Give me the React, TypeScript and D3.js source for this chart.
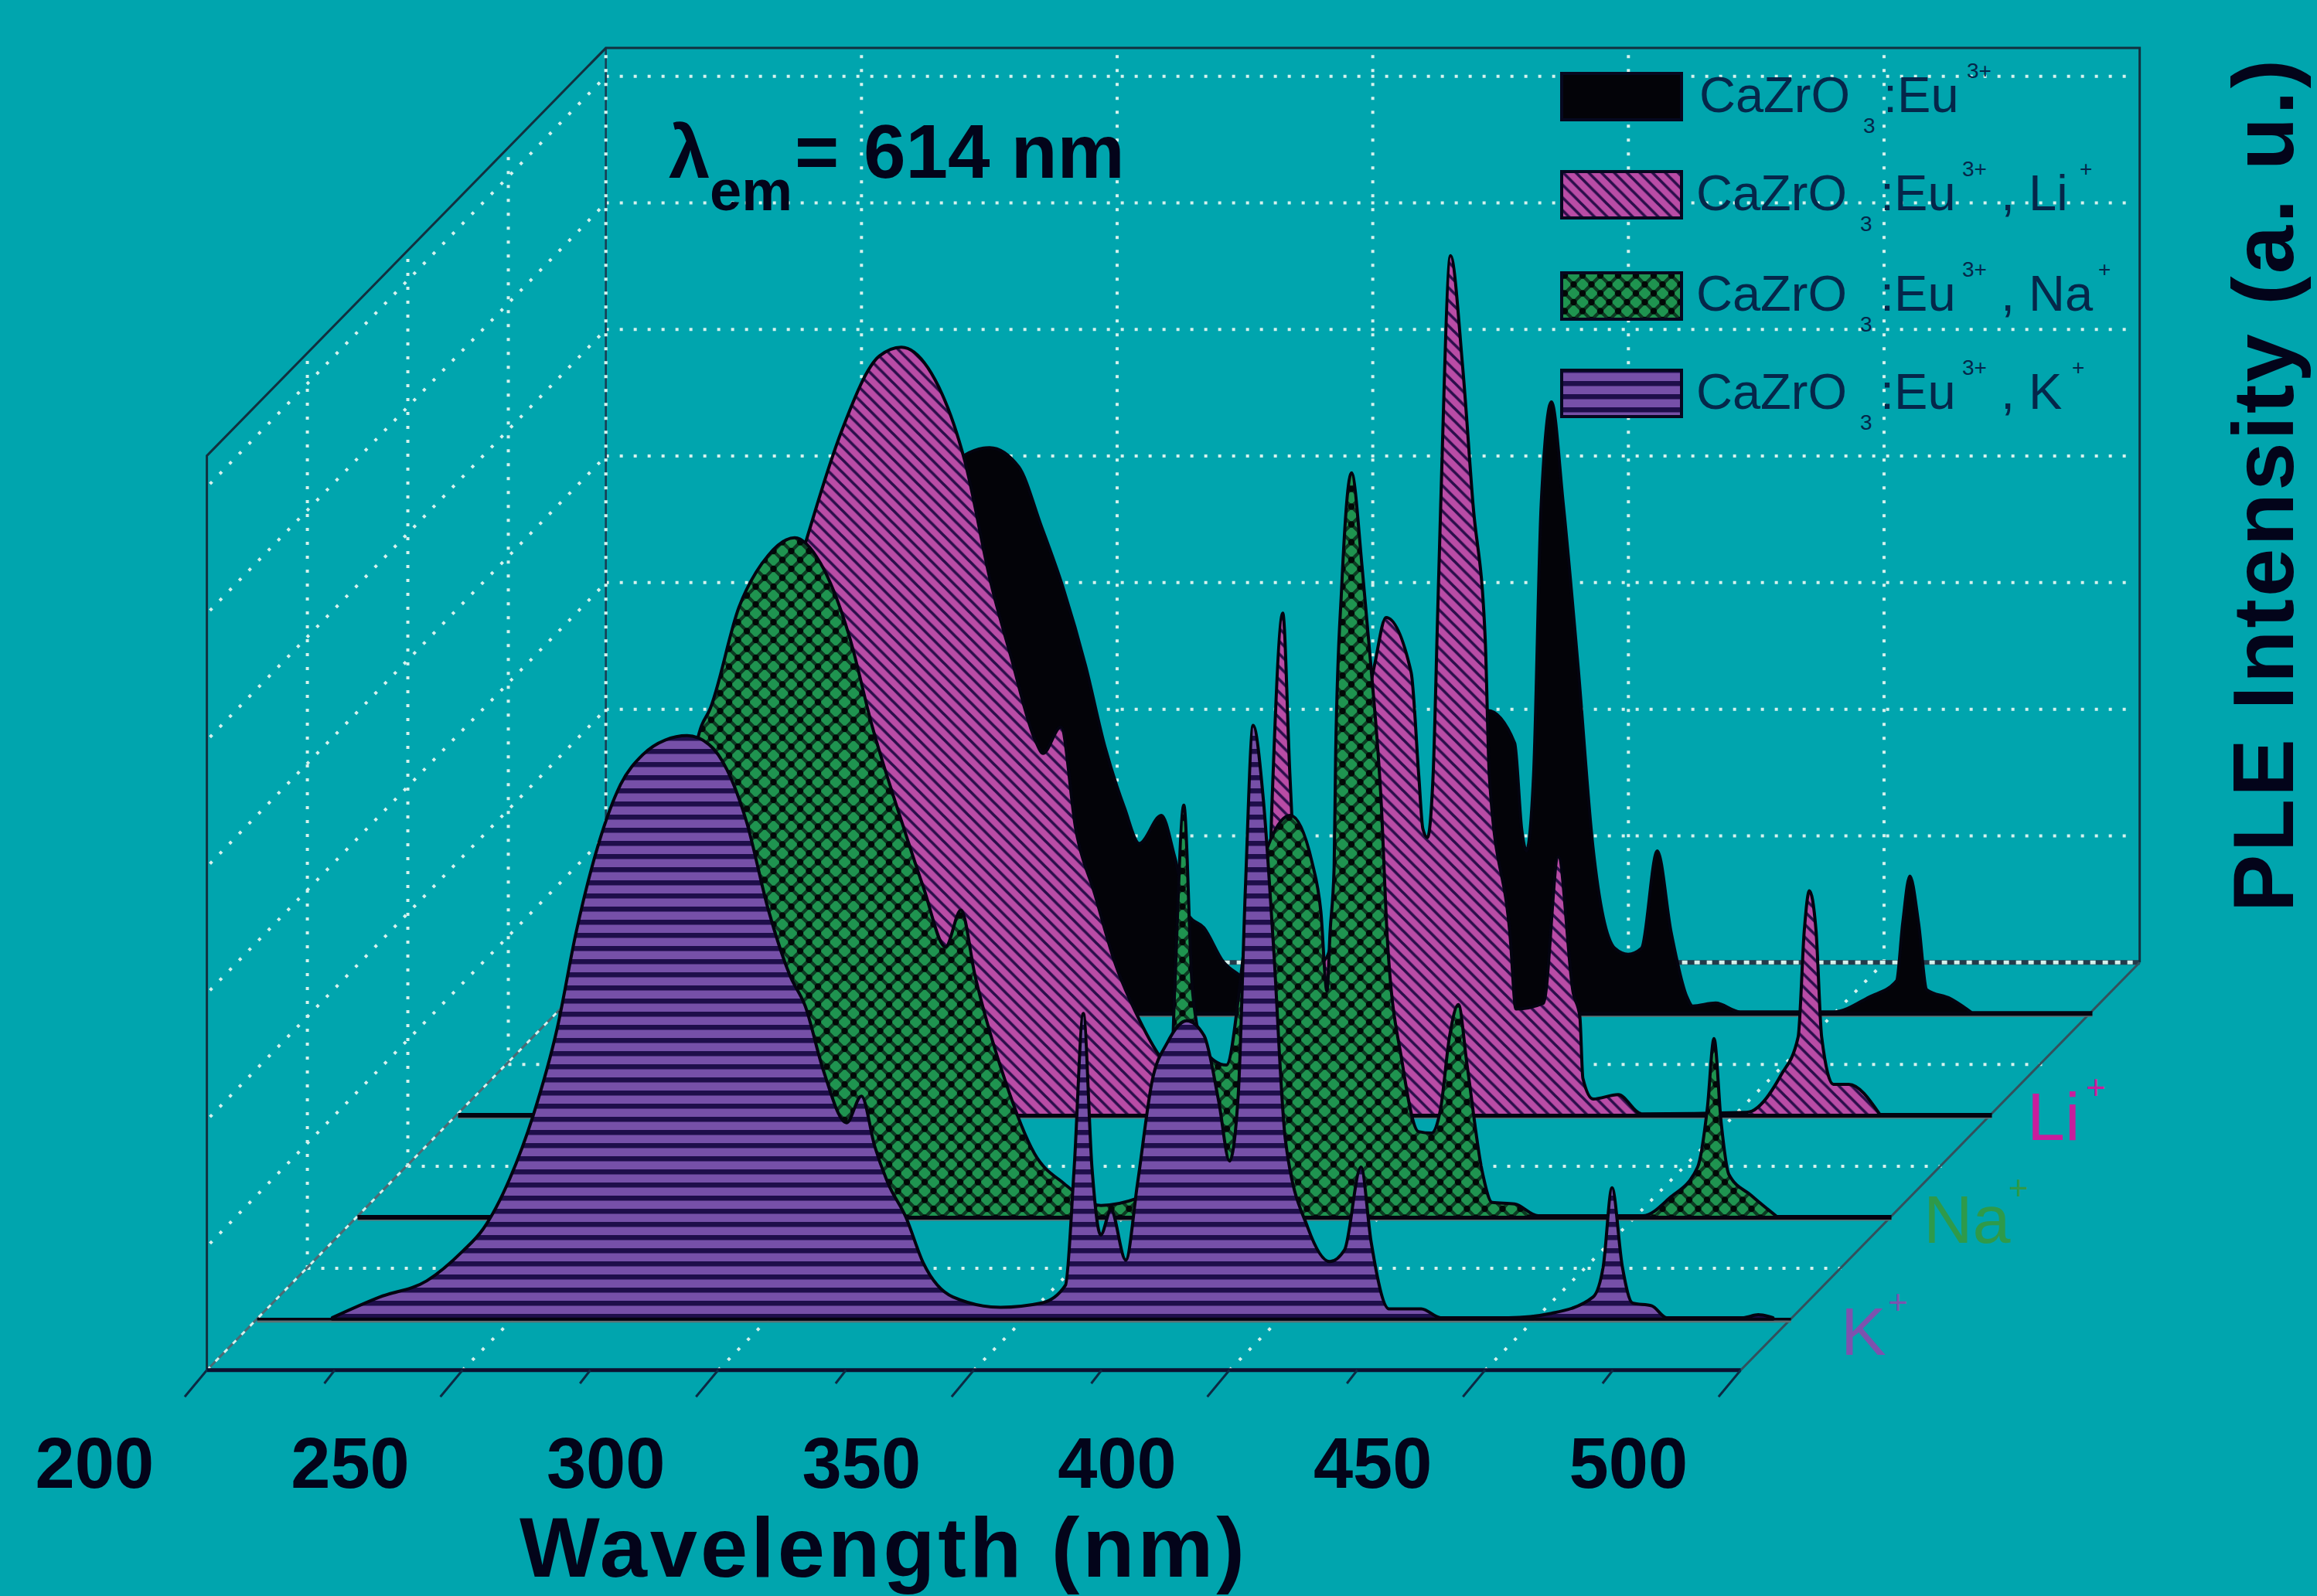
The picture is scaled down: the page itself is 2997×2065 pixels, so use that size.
import React from "react";
import * as d3 from "d3";

const W = 2997, H = 2065, s = 2997 / 1568;

// Wavelength (nm) and intensity (a.u.)
const blackWl = [215, 225, 240, 255, 265, 275, 279.5, 284.3, 290, 294.4, 298.5, 303.1, 306.9, 310.7, 313.6, 317.9, 320.5, 323.3, 326.2, 330, 333.5, 339, 345, 358, 361, 364, 375, 381.7, 387, 388.4, 389.3, 390.7, 392.2, 394.2, 396.5, 399.4, 402.3, 406.6, 409.2, 411.8, 414.9, 417.6, 420.7, 421.8, 426.3, 431.1, 449.4, 456.3, 461.7, 462.9, 464.3, 466, 467.6, 472.2, 476.2];
const blackI = [0, 5, 40, 130, 280, 360, 378, 383, 370, 330, 290, 235, 180, 139, 115, 134, 106, 66, 58, 35, 25, 10, 10, 15, 200, 30, 150, 205, 183, 124, 110, 161, 345, 414, 345, 235, 113, 44, 40, 44, 110, 55, 11, 5, 7, 1, 1, 11, 22, 61, 93, 61, 16, 10, 1];

const liWl = [215, 230, 240, 250, 260, 265, 269.4, 275.1, 282.4, 286.7, 291.9, 299.1, 304.3, 308.1, 313, 314.4, 317.9, 320.8, 324.6, 328.3, 333.2, 338.1, 343, 347.4, 351.7, 357.5, 359.2, 361.3, 362.7, 364.7, 369, 379.2, 381.5, 386.4, 387.9, 388.7, 389.6, 390.7, 391.6, 392.2, 394.1, 396.5, 398.5, 400.9, 401.7, 405.8, 406.9, 412.3, 415.2, 418.1, 419.4, 420, 422, 426.9, 431.5, 452, 458.7, 462.1, 463.3, 464.3, 465.6, 466.7, 469, 472, 478];
const liI = [0, 20, 50, 115, 260, 350, 404, 464, 514, 520, 506, 443, 359, 311, 253, 245, 263, 194, 149, 105, 65, 36, 24, 9, 4, 9, 212, 340, 230, 114, 104, 304, 337, 300, 230, 194, 188, 230, 340, 414, 582, 506, 414, 322, 230, 120, 72, 76, 175, 83, 67, 25, 11, 14, 1, 2, 27, 53, 125, 152, 125, 53, 21, 21, 1];

const naWl = [214, 233, 240, 250, 260, 267.3, 268.8, 274.6, 280.3, 285.5, 290.5, 296.2, 300.6, 306.4, 310.7, 315, 318, 320.8, 326.6, 332.4, 338.1, 345.4, 352.6, 358.4, 359.8, 361.6, 363.3, 365.6, 369.9, 374.3, 378.5, 382.4, 386.7, 388.4, 389.6, 390.2, 391, 391.3, 392.5, 394.4, 396.5, 398.2, 400.2, 401.4, 404.3, 407.5, 410.1, 411.8, 413.6, 415.3, 417, 419.9, 421.9, 426.3, 430.9, 451.4, 456.6, 462.1, 464, 465.3, 466.7, 468.2, 472.5, 477.4];
const naI = [0, 0, 27, 100, 190, 333, 343, 413, 448, 460, 443, 393, 333, 268, 223, 183, 208, 163, 93, 43, 23, 8, 13, 23, 153, 279, 153, 113, 103, 203, 255, 272, 240, 207, 153, 193, 237, 314, 428, 504, 439, 373, 281, 189, 105, 58, 57, 73, 123, 144, 103, 32, 10, 9, 1, 1, 13, 34, 74, 121, 64, 29, 15, 1];

const kWl = [214.7, 224, 233.2, 240.2, 244.2, 249.4, 254, 258.7, 262.4, 266.8, 271.1, 275.4, 279.8, 284.1, 288.4, 291.9, 295.7, 300, 304.3, 307.2, 310.7, 315.3, 318.2, 320.8, 323.4, 326.9, 330.3, 336.1, 345.4, 353.5, 358.1, 359.8, 361.6, 363.3, 365, 367, 369.9, 372.2, 375.1, 378, 381.8, 385.2, 388.1, 390.2, 391.9, 393.3, 394.8, 396.8, 398.8, 401.1, 405.5, 409.8, 412.7, 415.9, 417.9, 421.4, 427.7, 431.5, 444.8, 453.2, 461.3, 463.3, 465, 467, 469, 472.8, 475.7, 490.7, 493.6, 496.5];
const kI = [1, 15, 26, 46, 61, 95, 138, 197, 262, 322, 362, 382, 392, 395, 389, 372, 337, 277, 232, 212, 169, 133, 151, 117, 92, 69, 38, 15, 8, 11, 23, 102, 207, 102, 57, 74, 40, 92, 162, 187, 202, 192, 147, 107, 152, 292, 402, 352, 252, 122, 62, 39, 47, 103, 52, 7, 7, 1, 1, 4, 15, 36, 89, 36, 11, 9, 1, 1, 3, 1];

const xTicks = [200, 250, 300, 350, 400, 450, 500];
const xMinor = [225, 275, 325, 375, 425, 475];
const yLevels = [85.7, 171.4, 257.1, 342.8, 428.5, 514.2, 599.9];
const depthLevels = [1, 2, 3];
const legendNames = ["", ", Li", ", Na", ", K"];
const ionNames = ["Li", "Na", "K"];

const x = d3.scaleLinear().domain([200, 500]).range([140 * s, 1178 * s]);
const y = d3.scaleLinear().domain([0, 620]).range([0, 620 * s]);
const dx = d3.scaleLinear().domain([0, 4]).range([0, 272 * s]);
const dy = d3.scaleLinear().domain([0, 4]).range([0, 276 * s]);
const floorY = 927.5 * s;
const wallDx = 270 * s;

const INK = "#03041a";
const BG = "#00a5ae";
const DOT = "#d6f2ee";

function areaPath(wl: number[], vals: number[], z: number) {
  const pts = wl.map((w, i) => [w, vals[i]] as [number, number]);
  return d3.area<[number, number]>()
    .curve(d3.curveMonotoneX)
    .x(d => x(d[0]) + dx(z))
    .y0(floorY - dy(z))
    .y1(d => floorY - dy(z) - y(d[1]))(pts) as string;
}

function Dotted({ x1, y1, x2, y2, w = 4 }: any) {
  return <line x1={x1} y1={y1} x2={x2} y2={y2} stroke={DOT} strokeWidth={w} strokeDasharray="4 14" />;
}

const seriesDefs = [
  { wl: blackWl, v: blackI, z: 3.5, fill: "#030308" },
  { wl: liWl, v: liI, z: 2.5, fill: "url(#liHatch)" },
  { wl: naWl, v: naI, z: 1.5, fill: "url(#naHatch)" },
  { wl: kWl, v: kI, z: 0.5, fill: "url(#kHatch)" },
];

const legendRows = [
  { top: 95, base: 145, fill: "#030308", x0: 2198, sup: 2544, tail: 0, tailSup: 0 },
  { top: 222, base: 272, fill: "url(#liHatch)", x0: 2194, sup: 2538, tail: 2588, tailSup: 2690 },
  { top: 353, base: 402, fill: "url(#naHatch)", x0: 2194, sup: 2538, tail: 2588, tailSup: 2714 },
  { top: 479, base: 529, fill: "url(#kHatch)", x0: 2194, sup: 2538, tail: 2588, tailSup: 2680 },
];

const ionLabels = [
  { lx: 2622, ly: 1475, px: 2698, py: 1422, c: "#c81e9c" },
  { lx: 2488, ly: 1608, px: 2598, py: 1552, c: "#2e9a4a" },
  { lx: 2381, ly: 1753, px: 2442, py: 1700, c: "#7d52ae" },
];

export default function App() {
  const fx = floorY;
  const backX = (v: number) => x(v) + wallDx;
  const topH = y(619);
  return (
    <svg width={W} height={H} viewBox={`0 0 ${W} ${H}`} style={{ position: "absolute", left: 0, top: 0 }}
      fontFamily="'Liberation Sans', Arial, sans-serif">
      <defs>
        <pattern id="liHatch" width={16.5} height={16.5} patternUnits="userSpaceOnUse">
          <rect width={16.5} height={16.5} fill="#b94ca6" />
          <path d="M-4,-4 L20.5,20.5 M-4,12.5 L4,20.5 M12.5,-4 L20.5,4" stroke="#2a0e4a" strokeWidth={3.6} />
        </pattern>
        <pattern id="naHatch" width={23} height={23} patternUnits="userSpaceOnUse">
          <rect width={23} height={23} fill="#0c3a22" />
          <path d="M11.5,3 L20,11.5 L11.5,20 L3,11.5 Z" fill="#1f9450" />
          <path d="M0,-8.5 L8.5,0 L0,8.5 L-8.5,0 Z M23,-8.5 L31.5,0 L23,8.5 L14.5,0 Z M0,14.5 L8.5,23 L0,31.5 L-8.5,23 Z M23,14.5 L31.5,23 L23,31.5 L14.5,23 Z" fill="#1f9450" />
          <circle cx={11.5} cy={0} r={4.2} fill="#020806" />
          <circle cx={11.5} cy={23} r={4.2} fill="#020806" />
          <circle cx={0} cy={11.5} r={4.2} fill="#020806" />
          <circle cx={23} cy={11.5} r={4.2} fill="#020806" />
        </pattern>
        <pattern id="kHatch" width={20} height={17} patternUnits="userSpaceOnUse">
          <rect width={20} height={17} fill="#7650a8" />
          <rect y={0} width={20} height={6.5} fill="#1e0e4a" />
        </pattern>
      </defs>
      <rect width={W} height={H} fill={BG} />

      {/* back wall grid */}
      {yLevels.map(h => (
        <g key={h}>
          <Dotted x1={backX(200)} y1={fx - dy(4) - y(h)} x2={backX(500) - 12} y2={fx - dy(4) - y(h)} />
          <Dotted x1={x(200) + 4} y1={fx - y(h)} x2={backX(200)} y2={fx - dy(4) - y(h)} />
        </g>
      ))}
      {xTicks.slice(0, 6).map(t => (
        <Dotted key={t} x1={backX(t)} y1={fx - dy(4)} x2={backX(t)} y2={fx - dy(4) - topH} />
      ))}
      {/* left wall verticals and floor grid */}
      {depthLevels.map(d => (
        <g key={d}>
          <Dotted x1={x(200) + dx(d)} y1={fx - dy(d)} x2={x(200) + dx(d)} y2={fx - dy(d) - topH} />
          <Dotted x1={x(200) + dx(d)} y1={fx - dy(d)} x2={x(500) + dx(d)} y2={fx - dy(d)} />
        </g>
      ))}
      {xTicks.slice(1, 6).map(t => (
        <Dotted key={t} x1={x(t)} y1={fx} x2={backX(t)} y2={fx - dy(4)} />
      ))}
      {/* back floor edge and left floor edge */}
      <line x1={backX(200)} y1={fx - dy(4)} x2={backX(500)} y2={fx - dy(4)} stroke="#243a4a" strokeWidth={6} />
      <line x1={backX(200)} y1={fx - dy(4)} x2={backX(500)} y2={fx - dy(4)} stroke={DOT} strokeWidth={5} strokeDasharray="7 9" />
      <line x1={x(200)} y1={fx} x2={backX(200)} y2={fx - dy(4)} stroke="#4c6a74" strokeWidth={3} />
      <line x1={x(200)} y1={fx} x2={backX(200)} y2={fx - dy(4)} stroke={DOT} strokeWidth={3} strokeDasharray="6 10" />
      <line x1={backX(200)} y1={fx - dy(4)} x2={backX(200)} y2={fx - dy(4) - topH} stroke="#1c3a50" strokeWidth={2.5} />
      <line x1={backX(200)} y1={fx - dy(4)} x2={backX(200)} y2={fx - dy(4) - topH} stroke={DOT} strokeWidth={3.5} strokeDasharray="4 14" />

      {/* frame */}
      <g fill="none" stroke="#12303f" strokeWidth={3}>
        <path d={`M${x(200)},${fx} V${fx - topH} L${backX(200)},${fx - dy(4) - topH} H${backX(500)} V${fx - dy(4)}`} />
        <path d={`M${x(500)},${fx} L${backX(500)},${fx - dy(4)}`} stroke="#33505c" />
      </g>

      {/* spectra, back to front */}
      {seriesDefs.map(d => (
        <g key={d.z}>
          <line x1={x(200) + dx(d.z)} x2={x(500) + dx(d.z)} y1={fx - dy(d.z) + 3} y2={fx - dy(d.z) + 3} stroke="#5f6f72" strokeWidth={3} />
          <line x1={x(200) + dx(d.z)} x2={x(500) + dx(d.z)} y1={fx - dy(d.z)} y2={fx - dy(d.z)} stroke="#040410" strokeWidth={d.z === 0.5 ? 3.5 : 6} />
          <path d={areaPath(d.wl, d.v, d.z)} fill={d.fill} stroke="#040410" strokeWidth={4} strokeLinejoin="round" />
        </g>
      ))}

      {/* front axis and ticks */}
      <line x1={x(200)} x2={x(500)} y1={fx} y2={fx} stroke="#0c1030" strokeWidth={5} />
      {xTicks.map(t => (
        <line key={t} x1={x(t)} y1={fx} x2={x(t) - 15 * s} y2={fx + 18 * s} stroke="#0c2a44" strokeWidth={3} />
      ))}
      {xMinor.map(t => (
        <line key={t} x1={x(t)} y1={fx} x2={x(t) - 7 * s} y2={fx + 9 * s} stroke="#0c2a44" strokeWidth={3} />
      ))}
      {xTicks.map(t => (
        <text key={t} x={x(t) - 76 * s} y={1007 * s} textAnchor="middle" fontSize={92} fontWeight="bold" fill={INK}>{t}</text>
      ))}
      <text x={598 * s} y={1067.5 * s} textAnchor="middle" fontSize={110} letterSpacing={4} fontWeight="bold" fill={INK}>Wavelength (nm)</text>
      <text transform={`translate(${1552 * s},${328 * s}) rotate(-90)`} textAnchor="middle" fontSize={112} letterSpacing={3.2} fontWeight="bold" fill={INK}>PLE Intensity (a. u.)</text>

      {/* annotation */}
      <g fontWeight="bold" fill={INK}>
        <text x={865} y={230} fontSize={96}>λ</text>
        <text x={918} y={272} fontSize={74}>em</text>
        <text x={1028} y={230} fontSize={98}>=</text>
        <text x={1117} y={230} fontSize={98}>614 nm</text>
      </g>

      {/* legend */}
      {legendRows.map((r, i) => (
        <g key={i} fill="#05274a">
          <rect x={2020} y={r.top} width={155} height={60} fill={r.fill} stroke="#06081f" strokeWidth={4} />
          <text x={r.x0} y={r.base} fontSize={65}>CaZrO</text>
          <text x={r.x0 + 212} y={r.base + 27} fontSize={28}>3</text>
          <text x={r.x0 + 238} y={r.base} fontSize={65}>:Eu</text>
          <text x={r.sup} y={r.base - 44} fontSize={28}>3+</text>
          {i > 0 && <text x={r.tail} y={r.base} fontSize={65}>{legendNames[i]}</text>}
          {i > 0 && <text x={r.tailSup} y={r.base - 44} fontSize={28}>+</text>}
        </g>
      ))}

      {/* ion labels */}
      {ionLabels.map((l, i) => (
        <g key={i} fill={l.c}>
          <text x={l.lx} y={l.ly} fontSize={88}>{ionNames[i]}</text>
          <text x={l.px} y={l.py} fontSize={44}>+</text>
        </g>
      ))}
    </svg>
  );
}
